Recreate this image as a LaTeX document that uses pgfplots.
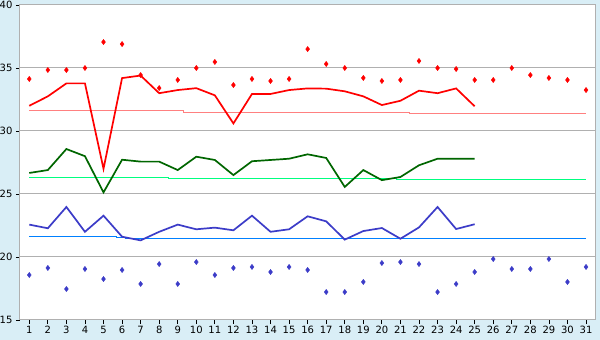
\documentclass[border=0pt]{standalone}
\usepackage{pgfplots}
\pgfplotsset{compat=1.18}
\usepackage{fontspec}
\setmainfont{DejaVu Sans}
\definecolor{bgblue}{HTML}{D9EEF6}
\definecolor{gridgray}{HTML}{B0B0B0}
\definecolor{hired}{HTML}{FF0000}
\definecolor{dkgreen}{HTML}{006600}
\definecolor{lnblue}{HTML}{3C3CC8}
\definecolor{pinkl}{HTML}{FF8080}
\definecolor{lgreen}{HTML}{00FF80}
\definecolor{lblue}{HTML}{0080FF}
\begin{document}
\begin{tikzpicture}[x=1pt,y=1pt]
\fill[bgblue] (0,0) rectangle (600,340);
\begin{axis}[
  at={(20pt,20pt)}, anchor=south west, scale only axis,
  width=575.3pt, height=315pt,
  xmin=0.5, xmax=31.5, ymin=15, ymax=40,
  xtick={1,...,31}, ytick={15,20,...,40},
  xtick pos=left, ytick pos=left,
  tick align=outside, major tick length=4pt,
  tick style={black, line width=0.8pt},
  ymajorgrids, grid style={gridgray, line width=1pt},
  axis line style={gridgray, line width=1pt},
  axis background/.style={fill=white},
  ticklabel style={font=\fontsize{10}{12}\selectfont},
  xticklabel style={yshift=1pt},
  /pgf/number format/assume math mode=true,
]
% thin average lines
\addplot[pinkl, line width=0.9pt] coordinates {(1,31.67) (9.3,31.67) (9.3,31.5) (21.5,31.5) (21.5,31.42) (31,31.42)};
\addplot[lgreen, line width=0.9pt] coordinates {(1,26.35) (8.5,26.35) (8.5,26.27) (20.8,26.27) (20.8,26.12) (31,26.12)};
\addplot[lblue, line width=0.9pt] coordinates {(1,21.67) (5.7,21.67) (5.7,21.59) (6.2,21.59) (6.2,21.5) (31,21.5)};
% red line
\addplot[hired, line width=1.7pt] coordinates {
(1,32.0) (2,32.75) (3,33.78) (4,33.78) (5,27.0) (6,34.2) (7,34.4) (8,33.0) (9,33.25) (10,33.4)
(11,32.83) (12,30.6) (13,32.94) (14,32.94) (15,33.25) (16,33.38) (17,33.36) (18,33.15) (19,32.75) (20,32.06)
(21,32.4) (22,33.2) (23,33.0) (24,33.38) (25,31.96)};
% green line
\addplot[dkgreen, line width=1.7pt] coordinates {
(1,26.67) (2,26.9) (3,28.57) (4,28.0) (5,25.13) (6,27.72) (7,27.57) (8,27.57) (9,26.9) (10,27.96)
(11,27.7) (12,26.5) (13,27.6) (14,27.7) (15,27.8) (16,28.15) (17,27.86) (18,25.56) (19,26.9) (20,26.1)
(21,26.35) (22,27.28) (23,27.8) (24,27.8) (25,27.8)};
% blue line
\addplot[lnblue, line width=1.7pt] coordinates {
(1,22.57) (2,22.28) (3,23.97) (4,22.0) (5,23.28) (6,21.61) (7,21.32) (8,22.0) (9,22.57) (10,22.2)
(11,22.33) (12,22.12) (13,23.28) (14,22.0) (15,22.2) (16,23.23) (17,22.83) (18,21.38) (19,22.06) (20,22.3)
(21,21.45) (22,22.35) (23,23.97) (24,22.22) (25,22.6)};
% red markers
\addplot[only marks, mark=diamond*, mark size=2.6pt, hired, mark options={draw=hired, fill=hired}] coordinates {
(1,34.13) (2,34.84) (3,34.84) (4,35.0) (5,37.06) (6,36.9) (7,34.44) (8,33.41) (9,34.05) (10,35.0)
(11,35.48) (12,33.65) (13,34.13) (14,33.97) (15,34.13) (16,36.5) (17,35.32) (18,35.0) (19,34.21) (20,33.97)
(21,34.05) (22,35.56) (23,35.0) (24,34.92) (25,34.05) (26,34.05) (27,35.0) (28,34.44) (29,34.21) (30,34.05) (31,33.25)};
% blue markers
\addplot[only marks, mark=diamond*, mark size=2.6pt, lnblue, mark options={draw=lnblue, fill=lnblue}] coordinates {
(1,18.57) (2,19.13) (3,17.46) (4,19.05) (5,18.25) (6,18.97) (7,17.86) (8,19.44) (9,17.86) (10,19.6)
(11,18.57) (12,19.13) (13,19.21) (14,18.81) (15,19.21) (16,18.97) (17,17.22) (18,17.22) (19,18.02) (20,19.52)
(21,19.6) (22,19.44) (23,17.22) (24,17.86) (25,18.81) (26,19.84) (27,19.05) (28,19.05) (29,19.84) (30,18.02) (31,19.21)};
\end{axis}
\pgfresetboundingbox
\useasboundingbox (0,0) rectangle (600,340);
\end{tikzpicture}
\end{document}
